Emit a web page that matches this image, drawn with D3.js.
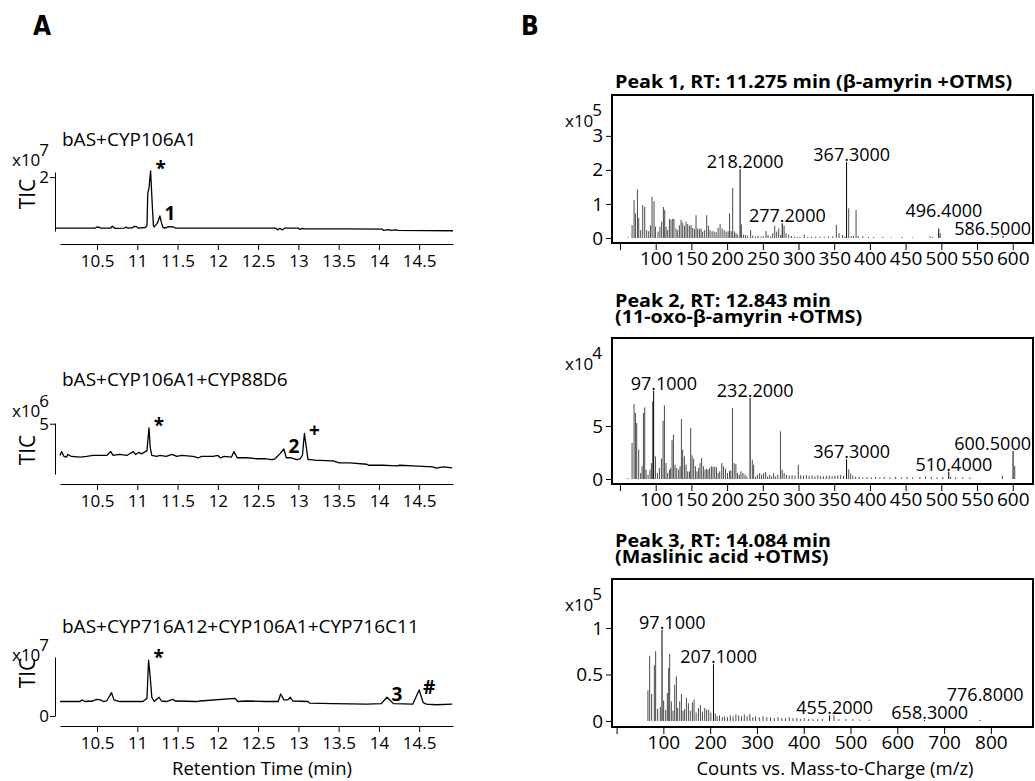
<!DOCTYPE html>
<html lang="en">
<head>
<meta charset="utf-8">
<title>TIC chromatograms and mass spectra</title>
<script src="https://cdn.jsdelivr.net/npm/d3@7"></script>
<style>
  body { margin: 0; background: #fff; }
  svg text { font-family: "Open Sans", sans-serif; fill: #000; }
</style>
</head>
<body>
<script>
// ---- Panel A: chromatograms (retention time in min, TIC scaled) ----
const chromTicks = [10.5, 11, 11.5, 12, 12.5, 13, 13.5, 14, 14.5];

const trace1Title = "bAS+CYP106A1";
const trace1 = [ // x10^7
  [9.99,0.11],[10.48,0.11],[10.5,0.15],[10.53,0.13],[10.55,0.11],[10.67,0.11],[10.69,0.18],[10.72,0.1],
  [10.84,0.11],[10.86,0.15],[10.88,0.11],[10.94,0.12],[10.96,0.17],[10.99,0.16],[11.01,0.11],[11.1,0.13],
  [11.12,0.2],[11.13,1.4],[11.145,1.6],[11.165,2.23],[11.185,1.0],[11.2,0.2],[11.21,0.15],[11.25,0.3],
  [11.28,0.56],[11.3,0.3],[11.32,0.12],[11.36,0.12],[11.38,0.16],[11.45,0.15],[11.47,0.11],[12.72,0.11],
  [12.74,0.04],[12.77,0.1],[12.8,0.04],[12.83,0.11],[13.0,0.11],[13.02,0.06],[13.05,0.1],[13.07,0.08],
  [13.6,0.08],[14.04,0.07],[14.06,0.02],[14.12,0.05],[14.15,0.02],[14.2,0.04],[14.24,0.02],[14.92,0.01]
];
const trace1Marks = [["*", 11.165], ["1", 11.28]];

const trace2Title = "bAS+CYP106A1+CYP88D6";
const trace2 = [ // x10^6
  [10.04,2.79],[10.06,3.06],[10.09,2.72],[10.12,2.68],[10.14,2.86],[10.18,2.72],[10.29,2.68],[10.37,2.72],
  [10.45,2.79],[10.54,2.79],[10.62,2.79],[10.67,3.06],[10.7,2.79],[10.78,2.86],[10.87,2.79],[10.95,3.06],
  [10.98,2.86],[11.02,3.02],[11.05,2.9],[11.09,3.02],[11.12,3.13],[11.145,4.71],[11.16,3.36],[11.18,2.79],
  [11.24,2.72],[11.28,2.79],[11.36,2.72],[11.43,2.86],[11.49,2.72],[11.55,2.79],[11.69,2.72],[11.76,2.63],
  [11.8,2.72],[11.94,2.72],[12.0,2.79],[12.03,2.63],[12.08,2.72],[12.17,2.68],[12.2,3.06],[12.24,2.63],
  [12.36,2.63],[12.48,2.56],[12.6,2.56],[12.67,2.5],[12.71,2.56],[12.77,2.9],[12.82,3.24],[12.85,2.63],
  [12.91,2.63],[12.98,2.5],[13.02,2.56],[13.05,2.79],[13.075,4.33],[13.09,3.7],[13.12,2.5],[13.16,2.5],
  [13.22,2.45],[13.26,2.45],[13.43,2.41],[13.51,2.27],[13.64,2.27],[13.85,2.18],[13.87,2.11],[14.05,2.11],
  [14.22,2.07],[14.26,2.11],[14.42,2.07],[14.67,2.0],[14.71,1.91],[14.8,2.0],[14.91,1.93]
];
const trace2Marks = [["*", 11.145], ["2", 12.82], ["+", 13.075]];

const trace3Title = "bAS+CYP716A12+CYP106A1+CYP716C11";
const trace3 = [ // x10^7
  [10.04,0.27],[10.29,0.27],[10.31,0.3],[10.35,0.27],[10.45,0.28],[10.49,0.31],[10.54,0.3],[10.58,0.27],
  [10.62,0.28],[10.68,0.435],[10.71,0.3],[10.78,0.27],[10.95,0.27],[11.07,0.27],[11.12,0.33],[11.14,1.04],
  [11.16,0.73],[11.18,0.35],[11.21,0.27],[11.27,0.35],[11.3,0.28],[11.36,0.27],[11.44,0.31],[11.47,0.28],
  [11.74,0.27],[11.78,0.28],[12.21,0.33],[12.25,0.27],[12.36,0.28],[12.6,0.27],[12.75,0.27],[12.78,0.41],
  [12.82,0.3],[12.87,0.3],[12.9,0.35],[12.93,0.28],[13.12,0.27],[13.14,0.24],[13.43,0.23],[13.85,0.22],
  [14.03,0.23],[14.1,0.35],[14.18,0.23],[14.42,0.22],[14.5,0.485],[14.55,0.25],[14.59,0.22],[14.71,0.21],
  [14.91,0.22]
];
const trace3Marks = [["*", 11.14], ["3", 14.1], ["#", 14.5]];

// ---- Panel B: mass spectra (m/z, counts scaled) ----
const spec1Title = ["Peak 1, RT: 11.275 min (\u03b2-amyrin +OTMS)"];
const spec1 = [ // x10^5
  [61,0.02],[66.9,0.38],[69.7,1.11],[71.6,0.72],[74.4,1.43],[76.2,0.59],[79,0.23],[81.8,0.96],[84.6,0.92],
  [87.4,0.23],[90.2,0.2],[92.6,0.37],[94.9,1.21],[97.7,1.08],[99.6,0.33],[103.3,0.19],[106,0.33],[108.4,0.48],
  [110.8,0.91],[112.6,0.82],[114.5,0.33],[116.8,0.23],[119.2,0.56],[121.4,0.53],[123.8,0.56],[125.6,0.56],
  [128.5,0.28],[130.8,0.23],[133.2,0.37],[135.5,0.53],[137.8,0.45],[140.2,0.36],[142.5,0.48],[144.8,0.41],
  [147.2,0.36],[149.5,0.38],[151.8,0.3],[154.2,0.26],[156.5,0.67],[158.8,0.28],[161.2,0.26],[163.5,0.28],
  [165.8,0.19],[168.6,0.23],[171.4,0.67],[173.8,0.36],[176.1,0.23],[179,0.2],[181.8,0.19],[184.6,0.17],
  [187.4,0.3],[190.2,0.41],[193,0.28],[195.8,0.23],[198.6,0.19],[201.4,0.2],[203.4,0.72],[205.7,0.2],
  [207.8,1.47],[210.2,0.19],[212.5,0.14],[214.9,0.1],[218.2,2.02],[220,0.4],[222.8,0.1],[225.6,0.09],
  [228.4,0.07],[233,0.23],[235.9,0.07],[239.6,0.04],[243.3,0.07],[247.5,0.04],[250.8,0.05],[254.5,0.2],
  [257.3,0.09],[261,0.05],[263.9,0.14],[266.7,0.36],[269.5,0.19],[272.3,0.28],[275.1,0.09],[277.2,0.43],
  [279.8,0.36],[282.6,0.14],[286.3,0.09],[290,0.06],[294.2,0.04],[298,0.03],[302,0.03],[308,0.1],[313,0.03],
  [318,0.04],[324,0.03],[330,0.04],[336,0.03],[342,0.04],[348,0.05],[353,0.38],[356.8,0.14],[361.5,0.09],
  [365,0.05],[367.3,2.23],[370.3,0.87],[374,0.05],[377,0.06],[380.6,0.82],[383.5,0.06],[390,0.05],[398,0.03],
  [405,0.03],[418,0.03],[430,0.02],[445,0.03],[460,0.02],[484.3,0.05],[488,0.03],[496.4,0.28],[498.4,0.14],
  [571,0.04],[586.5,0.07]
];
const spec1Labels = [218.2, 277.2, 367.3, 496.4, 586.5];
const spec1XTicks = [50, 100, 150, 200, 250, 300, 350, 400, 450, 500, 550, 600];
const spec1YTicks = [0, 1, 2, 3];

const spec2Title = ["Peak 2, RT: 12.843 min", "(11-oxo-\u03b2-amyrin +OTMS)"];
const spec2 = [ // x10^4
  [61,0.1],[66.9,3.4],[69.7,7.08],[71.6,6.23],[73.4,5.28],[76.2,2.77],[79,0.57],[80.9,1.2],[82.8,6.23],
  [84.6,6.76],[86.5,0.88],[89.3,0.41],[92.1,0.88],[94,1.5],[95.8,7.33],[97.1,8.33],[99.6,2.14],[102.4,0.57],
  [105.2,1.04],[108,1.92],[110.3,5.5],[112.2,6.95],[114.5,1.5],[116.8,0.57],[119.2,0.88],[121,1.04],
  [122.9,3.65],[124.8,4.18],[127.1,1.35],[129.4,1.04],[132.2,0.88],[134.1,1.2],[136,5.66],[137.8,2.77],
  [140.2,2.14],[142.5,1.35],[144.8,0.72],[147.2,0.72],[149,4.81],[150.9,2.23],[153.2,1.92],[155.6,1.2],
  [157.9,0.72],[160.2,1.04],[162.1,1.5],[164.4,1.98],[166.8,1.2],[169.1,0.88],[171.4,0.97],[173.3,0.88],
  [175.6,1.04],[178,1.2],[180.3,1.16],[182.7,1.16],[185,1.1],[187.4,0.57],[189.7,0.72],[192.5,1.5],
  [194.9,1.2],[197.7,0.97],[200.5,0.57],[203.3,0.79],[205.2,0.79],[207.5,6.7],[209.9,1.5],[212.3,1.4],
  [214.6,0.57],[217,0.41],[219.4,0.72],[222.2,0.57],[225,0.41],[227.8,0.25],[232.2,7.64],[235.3,1.82],
  [237.2,1.35],[240,0.25],[242.8,0.41],[245.6,0.57],[248.4,0.41],[251.2,0.57],[254,0.66],[256.8,0.25],
  [259.6,0.41],[262.4,0.25],[265.2,0.57],[268,0.25],[271,0.41],[274.7,4.5],[277.1,0.88],[279.9,0.57],
  [283,0.41],[287,0.33],[291,0.36],[295,0.33],[299.7,1.32],[303,0.36],[307,0.3],[311,0.36],[315,0.3],
  [319,0.33],[323,0.25],[327,0.36],[331,0.3],[335,0.25],[339,0.3],[343,0.33],[347,0.25],[351,0.3],
  [355,0.33],[359,0.36],[363,0.3],[367.3,1.86],[370.3,0.9],[373,0.5],[376,0.3],[380,0.2],[385,0.2],
  [390,0.15],[396,0.2],[402,0.15],[408,0.2],[414,0.15],[420,0.2],[428,0.15],[436,0.2],[444,0.15],
  [452,0.2],[460,0.15],[470,0.2],[478,0.25],[486,0.2],[494,0.15],[502,0.2],[510.4,0.69],[513,0.2],
  [520,0.15],[530,0.15],[540,0.15],[585.5,0.3],[600.5,2.64],[602.8,1.23]
];
const spec2Labels = [97.1, 232.2, 367.3, 510.4, 600.5];
const spec2XTicks = spec1XTicks;
const spec2YTicks = [0, 5];

const spec3Title = ["Peak 3, RT: 14.084 min", "(Maslinic acid +OTMS)"];
const spec3 = [ // x10^5
  [67,0.33],[70.7,0.7],[75,0.29],[80.7,0.6],[83.5,0.75],[87.8,0.13],[93.5,0.15],[97.1,0.98],[100.6,0.22],
  [104.9,0.12],[108.5,0.3],[111.3,0.57],[113.5,0.72],[117,0.21],[120.6,0.11],[124.2,0.39],[127.8,0.48],
  [130.6,0.14],[134.9,0.21],[138.5,0.29],[142,0.11],[145.5,0.13],[149.2,0.25],[153.5,0.19],[157.5,0.11],
  [162,0.2],[165.6,0.23],[170,0.09],[174.9,0.14],[179.2,0.17],[183.5,0.1],[188.4,0.14],[192.5,0.12],
  [197,0.12],[201.5,0.09],[207.1,0.61],[211,0.08],[215,0.05],[220,0.06],[226,0.04],[231,0.05],[237,0.04],
  [243,0.06],[249,0.05],[255,0.07],[261,0.06],[267,0.05],[273,0.07],[279,0.05],[284.8,0.075],[291,0.04],
  [297,0.05],[305,0.04],[313,0.05],[321,0.04],[329,0.04],[337,0.03],[345,0.04],[353,0.03],[361,0.03],
  [369,0.04],[377,0.03],[385,0.03],[393,0.02],[401,0.03],[410,0.02],[420,0.02],[430,0.02],[440,0.02],
  [455.2,0.06],[464.7,0.06],[475,0.02],[490,0.02],[505,0.02],[520,0.015],[540,0.015],[658.3,0.01],[776.8,0.01]
];
const spec3Labels = [97.1, 207.1, 455.2, 658.3, 776.8];
const spec3XTicks = [0, 100, 200, 300, 400, 500, 600, 700, 800];
const spec3YTicks = [0, 0.5, 1];

// ---- drawing ----
const W = 1035, H = 781;
const svg = d3.select("body").append("svg")
  .attr("width", W).attr("height", H);

// panel letters
[["A", 33], ["B", 521]].forEach(([s, px]) => {
  svg.append("text").attr("x", px).attr("y", 35)
    .style("font-family", "'Liberation Sans Narrow', 'DejaVu Sans Condensed', sans-serif")
    .style("font-weight", "bold").style("font-size", "26px").text(s);
});

// shared retention-time scale
const xRT = d3.scaleLinear().domain([10.04, 14.92]).range([60, 453]);

function drawChrom(o) {
  const g = svg.append("g");
  const y = d3.scaleLinear().domain(o.yDomain).range(o.yRange);

  g.append("text").attr("x", 62).attr("y", o.titleY)
    .style("font-size", "19px").text(o.title);

  // exponent label
  const ex = g.append("text").attr("x", 12).attr("y", o.expY).style("font-size", "17px");
  ex.append("tspan").text("x10");
  ex.append("tspan").attr("dy", -10).attr("dx", -1).text(o.exp);

  g.append("text")
    .attr("transform", `translate(35,${o.ticY}) rotate(-90)`)
    .attr("text-anchor", "middle").style("font-size", "21px").text("TIC");

  const yAxis = g.append("g").attr("transform", "translate(55,0)")
    .call(d3.axisLeft(y).tickValues(o.yTicks).tickSize(5).tickSizeOuter(0).tickFormat(d3.format("")));
  yAxis.selectAll("text").style("font-size", "17px").attr("dx", 2);

  const xAxis = g.append("g").attr("transform", `translate(0,${o.axisY})`)
    .call(d3.axisBottom(xRT).tickValues(chromTicks).tickSize(6).tickSizeOuter(0).tickFormat(d3.format("")));
  xAxis.selectAll("text").style("font-size", "17px").attr("dy", "0.85em");

  g.append("path").datum(o.data)
    .attr("fill", "none").attr("stroke", "#000").attr("stroke-width", 1.3)
    .attr("stroke-linejoin", "round")
    .attr("d", d3.line().x(d => xRT(d[0])).y(d => y(d[1])));

  // peak markers: placed just to the right of each apex
  o.marks.forEach(([sym, t]) => {
    const near = o.data.filter(d => Math.abs(d[0] - t) < 0.03);
    const top = d3.max(near, d => d[1]);
    const tx = g.append("text").attr("x", xRT(t) + 10).attr("y", 0)
      .attr("text-anchor", "middle").style("font-size", "19px").style("font-weight", "bold").text(sym);
    const bb = tx.node().getBBox();
    tx.attr("y", y(top) - 3 - (bb.y + bb.height / 2));
  });
}

drawChrom({ data: trace1, title: trace1Title, marks: trace1Marks, titleY: 146,
  yDomain: [0, 2.19], yRange: [231, 172], yTicks: [2], exp: "7", expY: 166, ticY: 194, axisY: 244 });
drawChrom({ data: trace2, title: trace2Title, marks: trace2Marks, titleY: 386,
  yDomain: [1.5, 5.05], yRange: [474, 423], yTicks: [5], exp: "6", expY: 417, ticY: 450, axisY: 484 });
drawChrom({ data: trace3, title: trace3Title, marks: trace3Marks, titleY: 633,
  yDomain: [0, 1.1], yRange: [716, 657], yTicks: [0], exp: "7", expY: 661, ticY: 673, axisY: 726 });

svg.append("text").attr("x", 262).attr("y", 775).attr("text-anchor", "middle")
  .style("font-size", "18.5px").text("Retention Time (min)");

// ---- spectra ----
const fmt4 = d3.format(".4f");

function drawSpec(o) {
  const g = svg.append("g");
  const x = d3.scaleLinear().domain(o.xDomain).range([o.left, o.right]);
  const y = d3.scaleLinear().domain(o.yDomain).range([o.bottom, o.top]);

  // bold title, one text element, stretched a little to the original's wide face
  const tt = g.append("text")
    .attr("transform", `translate(615,${o.titleY}) scale(1.16,1)`)
    .style("font-size", "17px").style("font-weight", "bold");
  o.title.forEach((line, i) => {
    tt.append("tspan").attr("x", 0).attr("dy", i === 0 ? 0 : 16).text(line);
  });

  const ex = g.append("text").attr("x", 565).attr("y", o.top + 32).style("font-size", "17px");
  ex.append("tspan").text("x10");
  ex.append("tspan").attr("dy", -11).attr("dx", -1).text(o.exp);

  g.selectAll("line.bar").data(o.data).join("line")
    .attr("class", "bar")
    .attr("x1", d => x(d[0])).attr("x2", d => x(d[0]))
    .attr("y1", y(0)).attr("y2", d => y(d[1]))
    .attr("stroke", d => o.labels.includes(d[0]) ? "#000" : "#4a4a4a")
    .attr("stroke-width", 1);

  const xa = g.append("g").attr("transform", `translate(0,${o.bottom})`)
    .call(d3.axisBottom(x).tickValues(o.xTicks).tickSize(7).tickSizeOuter(0)
      .tickFormat((d, i) => i === 0 ? "" : d));
  xa.select(".domain").remove();
  xa.selectAll("text").style("font-size", "19px").attr("y", 22).attr("dy", 0);

  const ya = g.append("g").attr("transform", `translate(${o.left},0)`)
    .call(d3.axisLeft(y).tickValues(o.yTicks).tickSize(6).tickSizeOuter(0).tickFormat(d3.format("")));
  ya.select(".domain").remove();
  ya.selectAll("text").style("font-size", "19px");

  g.append("rect").attr("x", o.left).attr("y", o.top)
    .attr("width", o.right - o.left).attr("height", o.bottom - o.top)
    .attr("fill", "none").attr("stroke", "#000").attr("stroke-width", 2);

  // peak labels: decimal point over the bar, pushed up when they collide
  const fs = 18, asc = fs * 0.78;
  const probe = g.append("text").style("font-size", fs + "px");
  const measure = s => { probe.text(s); return probe.node().getComputedTextLength(); };
  const dotW = measure(".");
  const placed = [];
  const items = o.labels.map(m => ({ m, v: o.data.find(d => d[0] === m)[1] }))
    .sort((a, b) => a.v - b.v || a.m - b.m);
  items.forEach(it => {
    const s = fmt4(it.m);
    const w = measure(s);
    let x0 = x(it.m) - measure(s.split(".")[0]) - dotW / 2;
    x0 = Math.min(x0, o.right - 2 - w);
    let base = y(it.v) - 1;
    let moved = true;
    while (moved) {
      moved = false;
      for (const p of placed) {
        if (x0 < p.x1 && x0 + w > p.x0 && base - asc < p.base && base > p.base - asc) {
          base = p.base - asc - 4;
          moved = true;
        }
      }
    }
    placed.push({ x0, x1: x0 + w, base });
    g.append("text").attr("x", x0).attr("y", base).style("font-size", fs + "px").text(s);
  });
  probe.remove();
}

drawSpec({ data: spec1, labels: spec1Labels, title: spec1Title, titleY: 88, exp: "5",
  xDomain: [38.8, 628.4], yDomain: [-0.147, 4.2], xTicks: spec1XTicks, yTicks: spec1YTicks,
  left: 612, right: 1033, top: 95, bottom: 243 });
drawSpec({ data: spec2, labels: spec2Labels, title: spec2Title, titleY: 307, exp: "4",
  xDomain: [38.8, 628.4], yDomain: [-0.47, 13.3], xTicks: spec2XTicks, yTicks: spec2YTicks,
  left: 612, right: 1033, top: 338, bottom: 484 });
drawSpec({ data: spec3, labels: spec3Labels, title: spec3Title, titleY: 547, exp: "5",
  xDomain: [-9.8, 890], yDomain: [-0.065, 1.527], xTicks: spec3XTicks, yTicks: spec3YTicks,
  left: 612, right: 1033, top: 579, bottom: 727 });

svg.append("text").attr("x", 835).attr("y", 775).attr("text-anchor", "middle")
  .style("font-size", "18.5px").text("Counts vs. Mass-to-Charge (m/z)");
</script>
</body>
</html>
